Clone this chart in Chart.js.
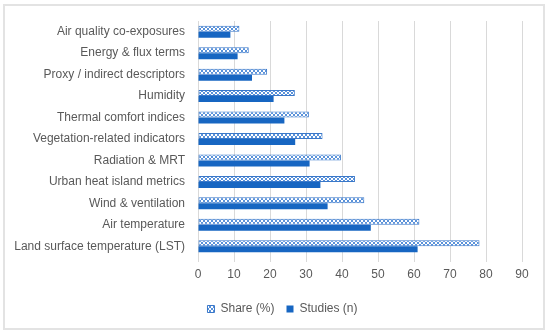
<!DOCTYPE html>
<html>
<head>
<meta charset="utf-8">
<script src="https://cdn.jsdelivr.net/npm/chart.js@4/dist/chart.umd.min.js"></script>
<style>
  body { margin: 0; background: #fff; }
  #frame {
    position: absolute; left: 3px; top: 4px;
    width: 538px; height: 322px;
    border: 2px solid #e3e3e3;
  }
  canvas { display: block; }
</style>
</head>
<body>
<div id="frame"><canvas id="myChart" width="538" height="322"></canvas></div>
<script>
// categorias, de arriba hacia abajo
const categories = [
	"Air quality co-exposures",
	"Energy & flux terms",
	"Proxy / indirect descriptors",
	"Humidity",
	"Thermal comfort indices",
	"Vegetation-related indicators",
	"Radiation & MRT",
	"Urban heat island metrics",
	"Wind & ventilation",
	"Air temperature",
	"Land surface temperature (LST)"
];
const shareValues = [11.5, 14.1, 19.2, 26.9, 30.8, 34.6, 39.7, 43.6, 46.2, 61.5, 78.2];
const studiesValues = [9, 11, 15, 21, 24, 27, 31, 34, 36, 48, 61];
const xTicks = [0, 10, 20, 30, 40, 50, 60, 70, 80, 90];

const blue = "#1766c2";
const textColor = "#595959";

// patron de cuadritos para "Share (%)"
function makePattern() {
	const p = document.createElement("canvas");
	p.width = 4;
	p.height = 4;
	const c = p.getContext("2d");
	c.fillStyle = "#ffffff";
	c.fillRect(0, 0, 4, 4);
	c.fillStyle = "#5a92da";
	c.fillRect(0, 0, 2, 2);
	c.fillRect(2, 2, 2, 2);
	return document.getElementById("myChart").getContext("2d").createPattern(p, "repeat");
}
const pattern = makePattern();

const font = { family: "'Liberation Sans', Arial, sans-serif", size: 12 };

// mover la leyenda un poco a la derecha, como en el original
const legendShift = {
	id: "legendShift",
	afterUpdate(chart) {
		const lg = chart.legend;
		lg.left += 19;
		lg.right += 19;
		lg.legendHitBoxes.forEach(h => { h.left += 19; });
	}
};

const config = {
	type: "bar",
	data: {
		labels: categories,
		datasets: [
			{
				label: "Share (%)",
				data: shareValues,
				backgroundColor: pattern,
				borderColor: "#3a78c9",
				borderWidth: 1,
				borderSkipped: false
			},
			{
				label: "Studies (n)",
				data: studiesValues,
				backgroundColor: blue,
				borderWidth: 0
			}
		]
	},
	options: {
		indexAxis: "y",
		responsive: false,
		animation: false,
		categoryPercentage: 0.56,
		barPercentage: 1.0,
		layout: { padding: { left: 0, right: 21, top: 15, bottom: 3 } },
		scales: {
			x: {
				min: 0,
				max: 90,
				afterBuildTicks: s => { s.ticks = xTicks.map(v => ({ value: v })); },
				grid: { color: "#d9d9d9", lineWidth: 1, tickLength: 5, drawTicks: true },
				border: { display: false },
				ticks: { color: textColor, font, padding: 5 },
				afterFit: s => { s.height = 34; }
			},
			y: {
				// el hueco entre etiqueta y eje va en tickLength, no en padding
				grid: { display: false, drawTicks: true, tickLength: 13 },
				border: { display: true, color: "#d9d9d9" },
				ticks: { color: textColor, font, padding: 0, autoSkip: false },
				afterFit: s => { s.width = 193; }
			}
		},
		plugins: {
			legend: {
				position: "bottom",
				labels: {
					color: textColor,
					font,
					boxWidth: 7,
					boxHeight: 7,
					padding: 12
				}
			},
			tooltip: { enabled: false }
		}
	},
	plugins: [legendShift]
};

new Chart(document.getElementById("myChart"), config);
</script>
</body>
</html>
